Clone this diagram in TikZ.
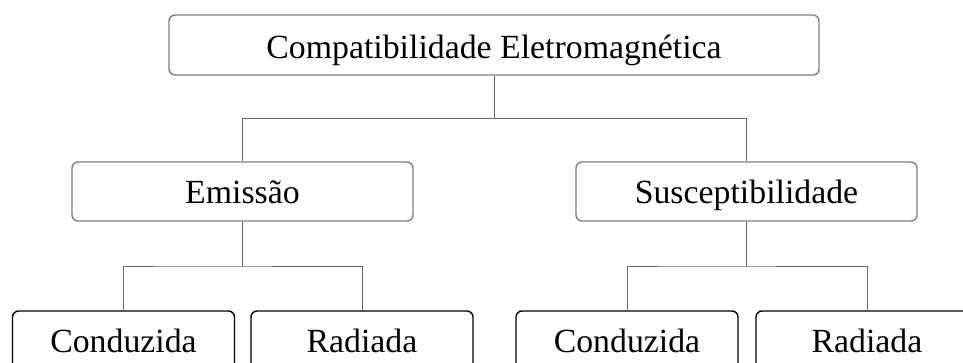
\documentclass[tikz,border=0pt]{standalone}
\usepackage{fontspec}
\setmainfont{Liberation Serif}
\usetikzlibrary{calc}

\begin{document}
\begin{tikzpicture}[x=1pt, y=1pt,
        grpbox/.style={draw=gray, line width=1.4pt, rounded corners=6pt, inner sep=0pt,
            minimum height=59pt, text height=30pt, text depth=7pt,
            font=\fontsize{33.8}{40}\selectfont},
        leafbox/.style={draw=black, line width=1.4pt, rounded corners=6pt, inner sep=0pt,
            minimum width=222pt, minimum height=59pt, text height=30pt, text depth=7pt,
            font=\fontsize{33.8}{40}\selectfont},
        link/.style={draw=black!60, line width=1pt}]
            % Frame
            \useasboundingbox (0, 0) rectangle (963, -362);

            % Boxes
            \node[grpbox, minimum width=650pt, minimum height=60pt, text depth=4pt] (emc) at (494, -45) {Compatibilidade Eletromagnética};
            \node[grpbox, minimum width=341pt] (emis) at (242.5, -191.5) {Emissão};
            \node[grpbox, minimum width=341pt] (susc) at (746.5, -191.5) {Susceptibilidade};
            \node[leafbox] (emiscond) at (123.5, -340.5) {Conduzida};
            \node[leafbox] (emisrad) at (362, -340.5) {Radiada};
            \node[leafbox] (susccond) at (627, -340.5) {Conduzida};
            \node[leafbox] (suscrad) at (867, -340.5) {Radiada};

            % Links
            \coordinate (topfork) at ($(emc.south)!.5!(emis.north)$);
            \draw[link] (emc.south) -- (emc.south |- topfork);
            \draw[link] (emis.north) |- (topfork) -| (susc.north);

            \coordinate (emisfork) at ($(emis.south)!.5!(emiscond.north)$);
            \draw[link] (emis.south) -- (emis.south |- emisfork);
            \draw[link] (emiscond.north) |- (emisfork) -| (emisrad.north);

            \coordinate (suscfork) at ($(susc.south)!.5!(susccond.north)$);
            \draw[link] (susc.south) -- (susc.south |- suscfork);
            \draw[link] (susccond.north) |- (suscfork) -| (suscrad.north);
        \end{tikzpicture}
\end{document}
